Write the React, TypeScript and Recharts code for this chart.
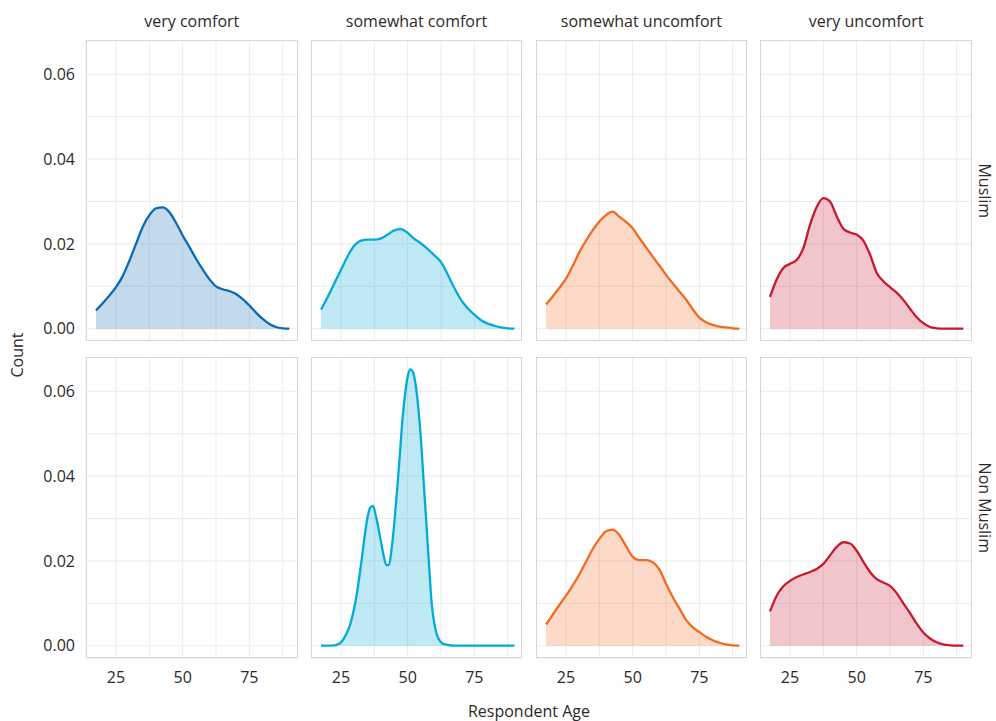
import React from 'react';
import { AreaChart, Area, XAxis, YAxis, CartesianGrid } from 'recharts';

// Age grid shared by most density curves
const AGES = [17.5, 20, 22.5, 25, 27.5, 30, 32.5, 35, 37.5, 40, 42.5, 45, 47.5, 50, 52.5, 55, 57.5, 60, 62.5, 65, 67.5, 70, 72.5, 75, 77.5, 80, 82.5, 85, 87.5, 90];

// Finer age grid for the sharply peaked curve
const AGES_FINE = [17.5, 20, 22.5, 24, 25, 26, 27, 28, 29, 30, 31, 32, 33, 34, 35, 36, 37, 38, 39, 40, 41, 42, 43, 44, 45, 46, 47, 48, 49, 50, 51, 52, 53, 54, 55, 56, 57, 58, 59, 60, 61, 62, 63, 65, 67.5, 70, 72.5, 75, 77.5, 80, 82.5, 85, 87.5, 90];

const COMFORT_LEVELS = ['very comfort', 'somewhat comfort', 'somewhat uncomfort', 'very uncomfort'];
const GROUPS = ['Muslim', 'Non Muslim'];
const LINE_COLORS = ['#0a6ab3', '#00acd7', '#f26b21', '#c8192f'];

// Muslim respondents
const MUSLIM_VERY_COMFORT = [0.0043, 0.0060, 0.0078, 0.0098, 0.0124, 0.0160, 0.0200, 0.0240, 0.0268, 0.0284, 0.0286, 0.0275, 0.0250, 0.0220, 0.0193, 0.0165, 0.0140, 0.0117, 0.0100, 0.0093, 0.0089, 0.0082, 0.0070, 0.0055, 0.0038, 0.0023, 0.0011, 0.0004, 0.0001, 0.0000];
const MUSLIM_SOMEWHAT_COMFORT = [0.0045, 0.0075, 0.0107, 0.0139, 0.0171, 0.0196, 0.0208, 0.0210, 0.0210, 0.0213, 0.0222, 0.0232, 0.0235, 0.0226, 0.0212, 0.0201, 0.0188, 0.0173, 0.0157, 0.0128, 0.0096, 0.0068, 0.0048, 0.0033, 0.0020, 0.0012, 0.0007, 0.0003, 0.0001, 0.0000];
const MUSLIM_SOMEWHAT_UNCOMFORT = [0.0057, 0.0076, 0.0096, 0.0118, 0.0148, 0.0180, 0.0208, 0.0232, 0.0253, 0.0268, 0.0276, 0.0264, 0.0252, 0.0237, 0.0214, 0.0192, 0.0170, 0.0149, 0.0127, 0.0107, 0.0088, 0.0069, 0.0046, 0.0026, 0.0015, 0.0009, 0.0005, 0.0003, 0.0001, 0.0000];
const MUSLIM_VERY_UNCOMFORT = [0.0075, 0.0116, 0.0143, 0.0153, 0.0162, 0.0190, 0.0245, 0.0287, 0.0308, 0.0300, 0.0265, 0.0236, 0.0227, 0.0222, 0.0208, 0.0175, 0.0132, 0.0112, 0.0098, 0.0085, 0.0068, 0.0047, 0.0027, 0.0013, 0.0004, 0.0001, 0.0000, 0.0000, 0.0000, 0.0000];

// Non Muslim respondents
const NON_MUSLIM_VERY_COMFORT: number[] = [];
const NON_MUSLIM_SOMEWHAT_COMFORT = [0.0000, 0.0000, 0.0001, 0.0004, 0.0008, 0.0016, 0.0028, 0.0042, 0.0063, 0.0090, 0.0125, 0.0168, 0.0215, 0.0265, 0.0305, 0.0326, 0.0330, 0.0308, 0.0278, 0.0245, 0.0212, 0.0190, 0.0190, 0.0230, 0.0290, 0.0365, 0.0445, 0.0530, 0.0592, 0.0635, 0.0652, 0.0645, 0.0615, 0.0560, 0.0485, 0.0385, 0.0290, 0.0190, 0.0100, 0.0052, 0.0025, 0.0012, 0.0006, 0.0002, 0.0000, 0.0000, 0.0000, 0.0000, 0.0000, 0.0000, 0.0000, 0.0000, 0.0000, 0.0000];
const NON_MUSLIM_SOMEWHAT_UNCOMFORT = [0.0050, 0.0073, 0.0096, 0.0118, 0.0142, 0.0168, 0.0198, 0.0228, 0.0252, 0.0270, 0.0274, 0.0261, 0.0235, 0.0210, 0.0202, 0.0202, 0.0197, 0.0180, 0.0146, 0.0115, 0.0088, 0.0061, 0.0044, 0.0032, 0.0021, 0.0013, 0.0007, 0.0003, 0.0001, 0.0000];
const NON_MUSLIM_VERY_UNCOMFORT = [0.0081, 0.0118, 0.0140, 0.0153, 0.0162, 0.0168, 0.0174, 0.0181, 0.0193, 0.0213, 0.0233, 0.0244, 0.0241, 0.0224, 0.0198, 0.0174, 0.0157, 0.0149, 0.0141, 0.0124, 0.0100, 0.0077, 0.0052, 0.0031, 0.0017, 0.0008, 0.0003, 0.0001, 0.0000, 0.0000];

const X_TICKS = [25, 37.5, 50, 62.5, 75, 87.5];
const Y_TICKS = [0, 0.01, 0.02, 0.03, 0.04, 0.05, 0.06];
const X_DOMAIN: [number, number] = [13.75, 93.05];
const Y_DOMAIN: [number, number] = [-0.0029, 0.0681];

type Row = { age: number; density: number | null };

function buildRows(ages: number[], values: number[]): Row[] {
  if (values.length === 0) return ages.map((age) => ({ age, density: null }));
  return ages.map((age, i) => ({ age, density: values[i] }));
}

const PANEL_DATA: Row[][][] = [
  [
    buildRows(AGES, MUSLIM_VERY_COMFORT),
    buildRows(AGES, MUSLIM_SOMEWHAT_COMFORT),
    buildRows(AGES, MUSLIM_SOMEWHAT_UNCOMFORT),
    buildRows(AGES, MUSLIM_VERY_UNCOMFORT),
  ],
  [
    buildRows(AGES, NON_MUSLIM_VERY_COMFORT),
    buildRows(AGES_FINE, NON_MUSLIM_SOMEWHAT_COMFORT),
    buildRows(AGES, NON_MUSLIM_SOMEWHAT_UNCOMFORT),
    buildRows(AGES, NON_MUSLIM_VERY_UNCOMFORT),
  ],
];

// Layout of the facet grid
const FONT = '"Open Sans", "Noto Sans", sans-serif';
const TEXT_COLOR = '#2a2a2a';
const PANEL_LEFT = 86;
const COL_STEP = 224.8;
const PANEL_W = 211.5;
const PANEL_TOP = 40.3;
const ROW_STEP = 317;
const PANEL_H = 301;
const Y_AXIS_W = 70;
const X_AXIS_H = 40;

const tickStyle = { fill: TEXT_COLOR, fontSize: 16, fontFamily: FONT };

const fmtX = (v: number) => (v % 25 === 0 ? String(v) : '');
const fmtY = (v: number) => (Math.round(v * 100) % 2 === 0 ? v.toFixed(2) : '');

function Panel({ row, col }: { row: number; col: number }) {
  const showY = col === 0;
  const showX = row === 1;
  const yw = showY ? Y_AXIS_W : 0;
  const xh = showX ? X_AXIS_H : 0;
  const plotLeft = PANEL_LEFT + col * COL_STEP;
  const plotTop = PANEL_TOP + row * ROW_STEP;
  const color = LINE_COLORS[col];
  const data = PANEL_DATA[row][col];
  return (
    <>
      <div style={{ position: 'absolute', left: plotLeft - yw, top: plotTop }}>
        <AreaChart width={PANEL_W + yw} height={PANEL_H + xh} data={data} margin={{ top: 0, right: 0, bottom: 0, left: 0 }}>
          <CartesianGrid stroke="#ebebeb" strokeWidth={1} />
          <XAxis
            type="number"
            dataKey="age"
            domain={X_DOMAIN}
            allowDataOverflow
            ticks={X_TICKS}
            interval={0}
            tickFormatter={fmtX}
            hide={!showX}
            height={xh}
            axisLine={false}
            tickLine={false}
            tickSize={0}
            tickMargin={13.7}
            tick={tickStyle}
          />
          <YAxis
            type="number"
            domain={Y_DOMAIN}
            allowDataOverflow
            ticks={Y_TICKS}
            interval={0}
            tickFormatter={fmtY}
            hide={!showY}
            width={yw}
            axisLine={false}
            tickLine={false}
            tickSize={0}
            tickMargin={11}
            tick={tickStyle}
          />
          <Area
            type="monotone"
            dataKey="density"
            baseValue={0}
            stroke={color}
            strokeWidth={2.3}
            fill={color}
            fillOpacity={0.25}
            isAnimationActive={false}
            dot={false}
            activeDot={false}
          />
        </AreaChart>
      </div>
      <div
        style={{
          position: 'absolute',
          left: plotLeft,
          top: plotTop,
          width: PANEL_W,
          height: PANEL_H,
          border: '1px solid #d6d6d6',
          boxSizing: 'border-box',
          pointerEvents: 'none',
        }}
      />
    </>
  );
}

export default function App() {
  const gridRight = PANEL_LEFT + 3 * COL_STEP + PANEL_W;
  return (
    <div style={{ position: 'absolute', left: 0, top: 0, width: 996, height: 721, background: '#ffffff', fontFamily: FONT }}>
      {GROUPS.map((_, r) => COMFORT_LEVELS.map((_, c) => <Panel key={`${r}-${c}`} row={r} col={c} />))}
      <svg width={996} height={721} style={{ position: 'absolute', left: 0, top: 0, pointerEvents: 'none' }}>
        {COMFORT_LEVELS.map((label, c) => (
          <text
            key={label}
            x={PANEL_LEFT + c * COL_STEP + PANEL_W / 2}
            y={26.5}
            textAnchor="middle"
            fontSize={16}
            fontFamily={FONT}
            fill={TEXT_COLOR}
          >
            {label}
          </text>
        ))}
        {GROUPS.map((label, r) => {
          const cy = PANEL_TOP + r * ROW_STEP + PANEL_H / 2;
          return (
            <text
              key={label}
              x={979}
              y={cy}
              transform={`rotate(90 979 ${cy})`}
              textAnchor="middle"
              fontSize={16}
              fontFamily={FONT}
              fill={TEXT_COLOR}
            >
              {label}
            </text>
          );
        })}
        <text
          x={23}
          y={355}
          transform="rotate(-90 23 355)"
          textAnchor="middle"
          fontSize={16}
          fontFamily={FONT}
          fill={TEXT_COLOR}
        >
          Count
        </text>
        <text
          x={(PANEL_LEFT + gridRight) / 2}
          y={717}
          textAnchor="middle"
          fontSize={16}
          fontFamily={FONT}
          fill={TEXT_COLOR}
        >
          Respondent Age
        </text>
      </svg>
    </div>
  );
}
